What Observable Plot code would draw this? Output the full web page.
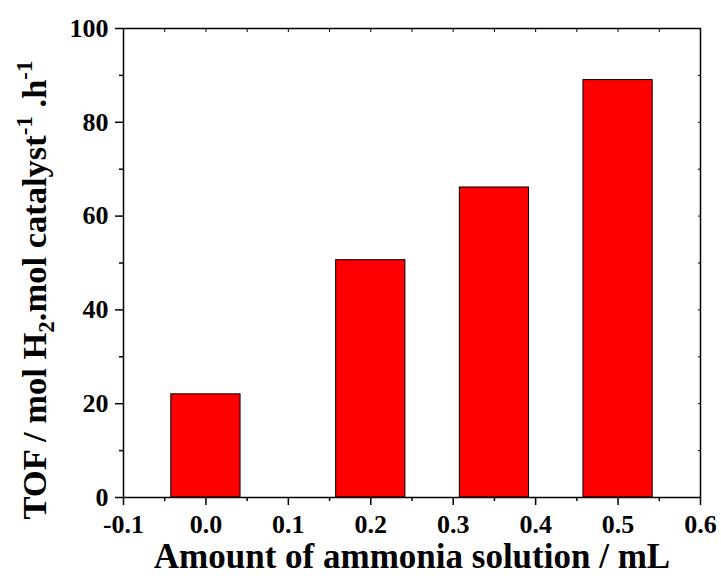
<!DOCTYPE html>
<html>
<head>
<meta charset="utf-8">
<script src="https://cdn.jsdelivr.net/npm/d3@7"></script>
<script src="https://cdn.jsdelivr.net/npm/@observablehq/plot@0.6"></script>
<style>
  html, body { margin: 0; padding: 0; background: #fff; }
  #chart svg { font-family: "Liberation Serif", "Times New Roman", serif; font-weight: bold; }
</style>
</head>
<body>
<div id="chart"></div>
<script>
// ---- data ----
const amounts = [0.0, 0.2, 0.35, 0.5];          // mL of ammonia solution
const tof = [22.0, 50.6, 66.1, 89.0];           // TOF values
const xTicks = [-0.1, 0.0, 0.1, 0.2, 0.3, 0.4, 0.5, 0.6];
const xMinorTicks = [-0.05, 0.05, 0.15, 0.25, 0.35, 0.45, 0.55];
const yTicks = [0, 20, 40, 60, 80, 100];
const yMinorTicks = [10, 30, 50, 70, 90];
const xTitle = "Amount of ammonia solution / mL";
const yTitleParts = ["TOF / mol H", "2", ".mol catalyst", "-1", " .h", "-1"];

// ---- layout ----
const barHalfWidth = 0.042;
const bars = amounts.map((a, i) => ({x1: a - barHalfWidth, x2: a + barHalfWidth, y: tof[i]}));
const allXTicks = xTicks.concat(xMinorTicks);
const allYTicks = yTicks.concat(yMinorTicks);
const font = "Liberation Serif, Times New Roman, serif";

const chart = Plot.plot({
  width: 721,
  height: 583,
  marginLeft: 123,
  marginRight: 21,
  marginTop: 28,
  marginBottom: 86,
  x: {domain: [-0.1, 0.6]},
  y: {domain: [0, 100]},
  style: {fontFamily: font, fontWeight: "bold", background: "white", color: "black"},
  marks: [
    Plot.rectY(bars, {x1: "x1", x2: "x2", y: "y", fill: "#ff0000", stroke: "black", strokeWidth: 1}),
    Plot.frame({stroke: "black", strokeWidth: 1.5}),
    Plot.axisX(xTicks, {anchor: "bottom", tickSize: 8, tickPadding: 9, strokeWidth: 1.5, fontSize: 26, fontWeight: "bold", tickFormat: d => d.toFixed(1), label: null}),
    Plot.axisX(xMinorTicks, {anchor: "bottom", tickSize: 4, strokeWidth: 1.5, tickFormat: () => "", label: null}),
    Plot.axisX(allXTicks, {anchor: "top", tickSize: 3, dy: 3, strokeWidth: 1, tickFormat: () => "", label: null}),
    Plot.axisY(yTicks, {anchor: "left", tickSize: 8, tickPadding: 7, strokeWidth: 1.5, fontSize: 26, fontWeight: "bold", tickFormat: d => String(d), label: null}),
    Plot.axisY(yMinorTicks, {anchor: "left", tickSize: 4, strokeWidth: 1.5, tickFormat: () => "", label: null}),
    Plot.axisY(allYTicks, {anchor: "right", tickSize: 3, dx: -3, strokeWidth: 1, tickFormat: () => "", label: null}),
    Plot.text([xTitle], {text: d => d, frameAnchor: "bottom", dy: 70, fontSize: 35, fontWeight: "bold"})
  ]
});

document.getElementById("chart").appendChild(chart);

// y-axis title with subscript / superscripts
const svg = d3.select(chart);
const t = svg.append("text")
  .attr("transform", "translate(46,290) rotate(-90)")
  .attr("text-anchor", "middle")
  .attr("font-family", font)
  .attr("font-weight", "bold")
  .attr("font-size", 34.5)
  .attr("fill", "black");
t.append("tspan").text(yTitleParts[0]);
t.append("tspan").attr("font-size", 23).attr("dy", 8).text(yTitleParts[1]);
t.append("tspan").attr("dy", -8).text(yTitleParts[2]);
t.append("tspan").attr("font-size", 23).attr("dy", -14).text(yTitleParts[3]);
t.append("tspan").attr("dy", 14).text(yTitleParts[4]);
t.append("tspan").attr("font-size", 23).attr("dy", -14).text(yTitleParts[5]);
</script>
</body>
</html>
